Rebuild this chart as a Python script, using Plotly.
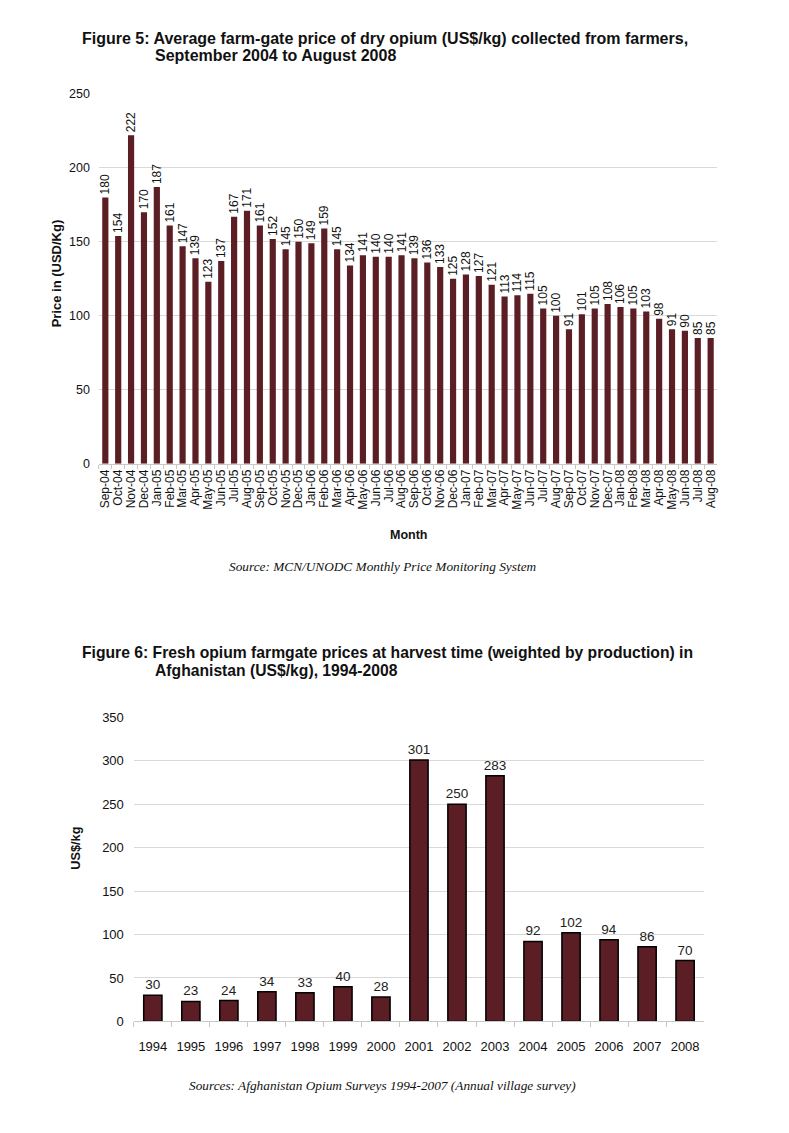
import plotly.graph_objects as go

months = ["Sep-04","Oct-04","Nov-04","Dec-04","Jan-05","Feb-05","Mar-05","Apr-05","May-05","Jun-05","Jul-05","Aug-05",
          "Sep-05","Oct-05","Nov-05","Dec-05","Jan-06","Feb-06","Mar-06","Apr-06","May-06","Jun-06","Jul-06","Aug-06",
          "Sep-06","Oct-06","Nov-06","Dec-06","Jan-07","Feb-07","Mar-07","Apr-07","May-07","Jun-07","Jul-07","Aug-07",
          "Sep-07","Oct-07","Nov-07","Dec-07","Jan-08","Feb-08","Mar-08","Apr-08","May-08","Jun-08","Jul-08","Aug-08"]
dry_price = [180,154,222,170,187,161,147,139,123,137,167,171,
             161,152,145,150,149,159,145,134,141,140,140,141,
             139,136,133,125,128,127,121,113,114,115,105,100,
             91,101,105,108,106,105,103,98,91,90,85,85]

years = ["1994","1995","1996","1997","1998","1999","2000","2001","2002","2003","2004","2005","2006","2007","2008"]
fresh_price = [30,23,24,34,33,40,28,301,250,283,92,102,94,86,70]

BAR = "#5a1e24"
FONT = "Liberation Sans, Arial, sans-serif"
SERIF = "Liberation Serif, Times New Roman, serif"
W, H = 789, 1133

def px(x):
    return x / W
def py(y):
    return 1 - y / H

fig = go.Figure()
fig.add_trace(go.Bar(x=months, y=dry_price, marker_color=BAR, marker_line_width=0,
                     text=[str(v) for v in dry_price], textposition="outside", textangle=-90,
                     constraintext="none",
                     textfont=dict(size=12, color="#111", family=FONT), cliponaxis=False,
                     xaxis="x", yaxis="y", width=0.48))
fig.add_trace(go.Bar(x=years, y=fresh_price, marker_color=BAR,
                     marker_line=dict(color="black", width=1.5),
                     text=[str(v) for v in fresh_price], textposition="outside", textangle=0,
                     constraintext="none",
                     textfont=dict(size=13.5, color="#222", family=FONT), cliponaxis=False,
                     xaxis="x2", yaxis="y2", width=0.48))

grid = "#d9d9d9"
fig.update_layout(
    width=W, height=H, margin=dict(l=0, r=0, t=0, b=0),
    paper_bgcolor="white", plot_bgcolor="white", showlegend=False,
    font=dict(family=FONT, color="#111"),
    xaxis=dict(domain=[px(98), px(717)], anchor="y", type="category",
               tickmode="linear", dtick=1, tick0=0,
               tickangle=-90, tickfont=dict(size=12), showgrid=False,
               showline=True, linecolor="#c8c8c8", ticks="outside", tickson="boundaries",
               ticklen=4, tickcolor="#c8c8c8"),
    yaxis=dict(domain=[py(463), py(88)], anchor="x", range=[0, 250], dtick=50,
               showgrid=True, gridcolor=grid, zeroline=False, showline=False,
               tickfont=dict(size=12.5), ticks="", ticklabelstandoff=8),
    xaxis2=dict(domain=[px(133), px(704)], anchor="y2", type="category",
                tickmode="linear", dtick=1, tick0=0,
                tickangle=0, tickfont=dict(size=13), showgrid=False,
                showline=True, linecolor="#c8c8c8", ticks="outside", tickson="boundaries",
                ticklen=5, tickcolor="#c8c8c8", ticklabelstandoff=13),
    yaxis2=dict(domain=[py(1028), py(720)], anchor="x2", range=[0, 350], dtick=50,
                showgrid=True, gridcolor=grid, zeroline=False, showline=False,
                tickfont=dict(size=13), ticks="", ticklabelstandoff=9),
    bargap=0.48,
)

ann = []
def text(x, y, s, size, bold=False, italic=False, family=FONT, xanchor="left", angle=0):
    t = s
    if bold:
        t = "<b>" + t + "</b>"
    if italic:
        t = "<i>" + t + "</i>"
    ann.append(dict(x=px(x), y=py(y), xref="paper", yref="paper", text=t, showarrow=False,
                    xanchor=xanchor, yanchor="middle", textangle=angle,
                    font=dict(size=size, family=family, color="#111")))

text(79, 32, "Figure 5: Average farm-gate price of dry opium (US$/kg) collected from farmers,", 16, bold=True)
text(152, 49, "September 2004 to August 2008", 16, bold=True)
text(55, 270, "Price in (USD/Kg)", 13, bold=True, xanchor="center", angle=-90)
text(408, 535, "Month", 12.5, bold=True, xanchor="center")
text(382, 567, "Source: MCN/UNODC Monthly Price Monitoring System", 13.3, italic=True, family=SERIF, xanchor="center")

text(79, 654, "Figure 6: Fresh opium farmgate prices at harvest time (weighted by production) in", 15.7, bold=True)
text(152, 672, "Afghanistan (US$/kg), 1994-2008", 15.7, bold=True)
text(75, 852, "US$/kg", 12.7, bold=True, xanchor="center", angle=-90)
text(382, 1093, "Sources: Afghanistan Opium Surveys 1994-2007 (Annual village survey)", 13.3, italic=True, family=SERIF, xanchor="center")

fig.update_layout(annotations=ann)
fig.write_html("out.html", config={"displayModeBar": False},
               post_script="document.body.style.margin='0';document.body.style.overflow='hidden';")
